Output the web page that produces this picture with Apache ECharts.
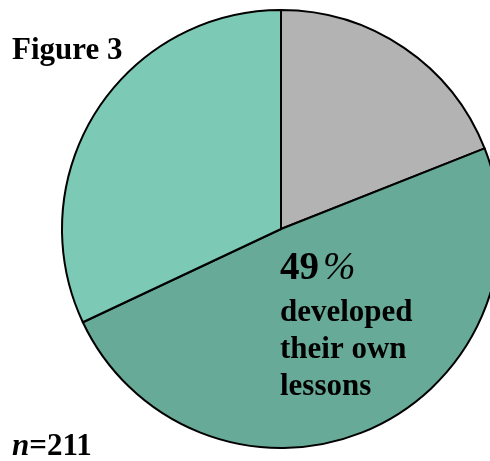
<!DOCTYPE html>
<html>
<head>
<meta charset="utf-8">
<script src="https://cdn.jsdelivr.net/npm/echarts@6/dist/echarts.min.js"></script>
<style>
html,body{margin:0;padding:0;background:#fff;}
#chart{width:490px;height:461px;}
</style>
</head>
<body>
<div id="chart"></div>
<script>
// Data
const categories = ['Other', 'Developed their own lessons', 'Used existing lessons'];
const values = [19, 49, 32];
const sliceColors = ['#b3b3b3', '#68aa98', '#7ccab5'];
const titleText = 'Figure 3';
const sampleSize = '211';
const highlightPct = '49';
const highlightLines = ['developed', 'their own', 'lessons'];

const chart = echarts.init(document.getElementById('chart'));
const FONT = '"Liberation Serif", "Times New Roman", serif';

chart.setOption({
  backgroundColor: '#ffffff',
  animation: false,
  title: {
    text: titleText,
    left: 12, top: 35, padding: 0,
    textStyle: { fontFamily: FONT, fontWeight: 'bold', fontSize: 31, color: '#000' }
  },
  series: [{
    type: 'pie',
    center: [281, 229],
    radius: 219,
    startAngle: 90,
    clockwise: true,
    silent: true,
    label: { show: false },
    labelLine: { show: false },
    itemStyle: { borderColor: '#000', borderWidth: 2 },
    data: categories.map((c, i) => ({ name: c, value: values[i], itemStyle: { color: sliceColors[i] } }))
  }],
  graphic: [
    {
      type: 'text', left: 280, top: 249, z: 100,
      style: {
        text: '{a|' + highlightPct + '}{b|%}',
        rich: {
          a: { fontFamily: FONT, fontWeight: 'bold', fontSize: 39, fill: '#000' },
          b: { fontFamily: FONT, fontStyle: 'italic', fontSize: 39, fill: '#000', padding: [0,0,0,4] }
        }
      }
    },
    {
      type: 'text', left: 280, top: 294, z: 100,
      style: {
        text: highlightLines.join('\n'),
        fontFamily: FONT, fontWeight: 'bold', fontSize: 31, lineHeight: 37, fill: '#000'
      }
    },
    {
      type: 'text', left: 12, top: 431, z: 100,
      style: {
        text: '{i|n}{r|=' + sampleSize + '}',
        rich: {
          i: { fontFamily: FONT, fontWeight: 'bold', fontStyle: 'italic', fontSize: 31, fill: '#000' },
          r: { fontFamily: FONT, fontWeight: 'bold', fontSize: 31, fill: '#000' }
        }
      }
    }
  ]
});
</script>
</body>
</html>
